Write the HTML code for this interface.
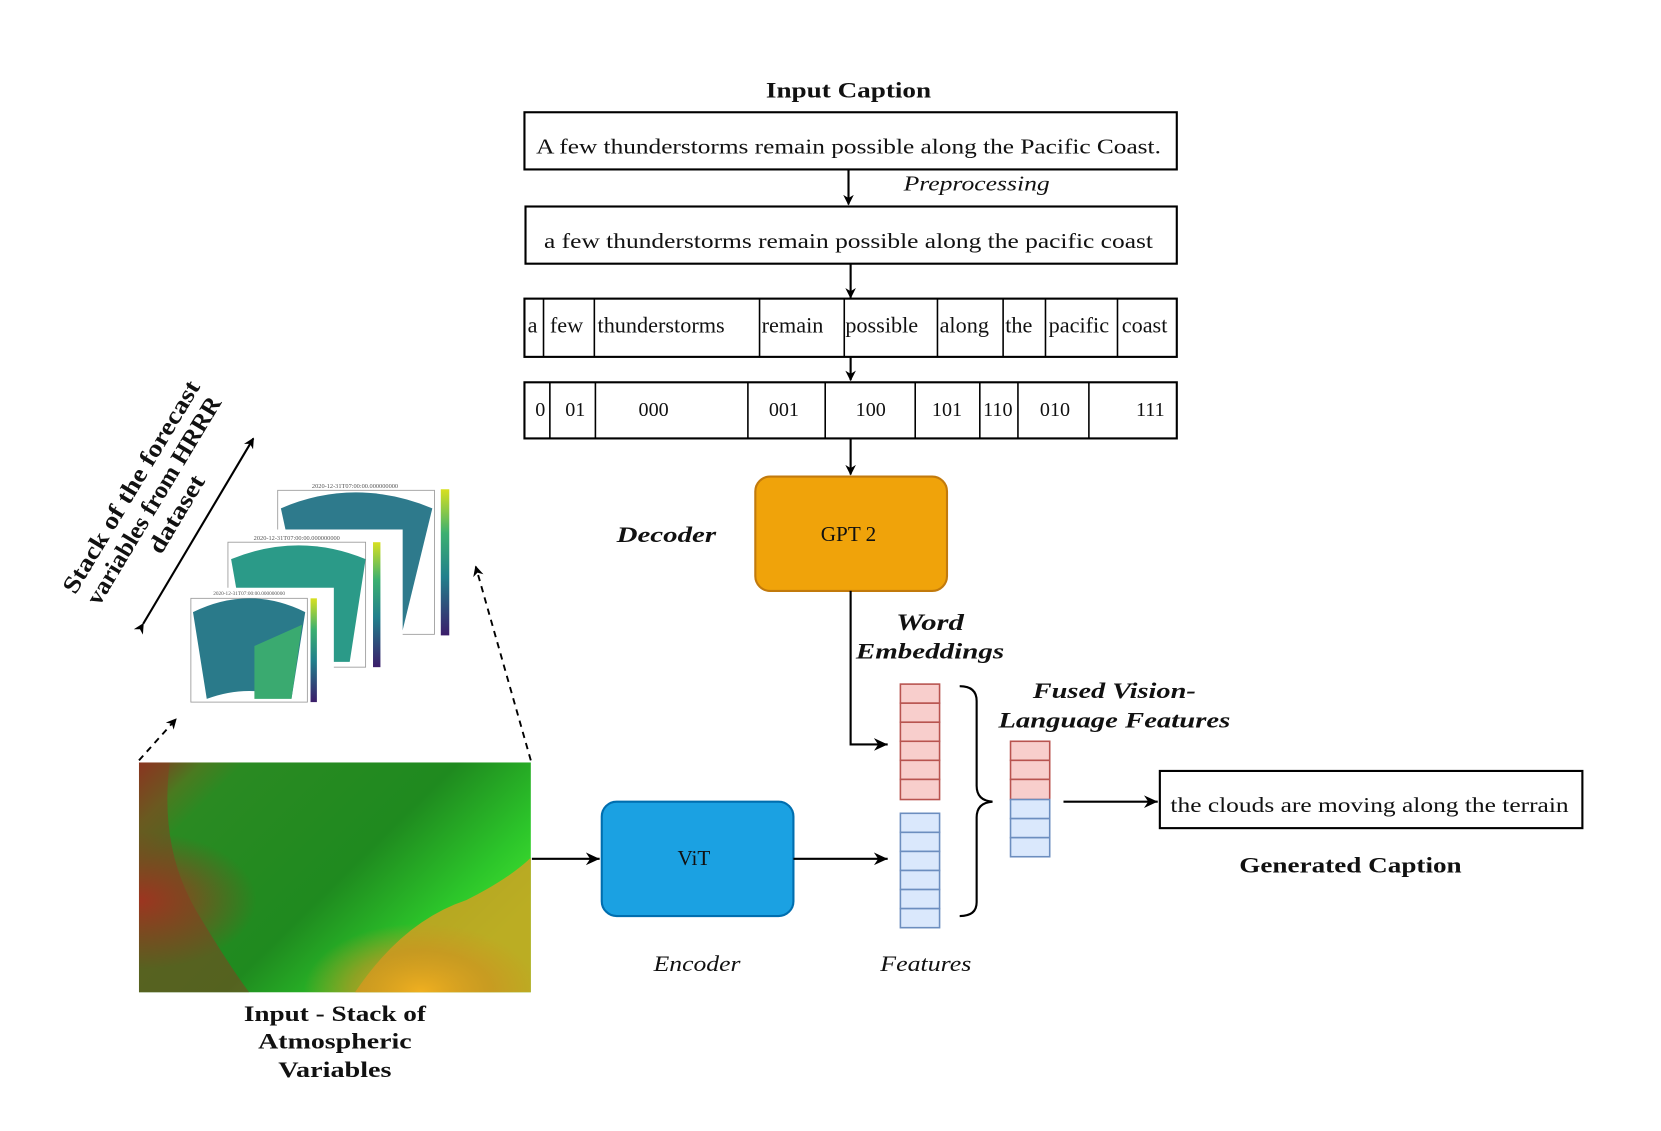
<!DOCTYPE html>
<html><head><meta charset="utf-8"><style>
html,body{margin:0;padding:0;background:#fff}
svg{display:block}
text{font-family:"Liberation Serif",serif;fill:#111}
.b{font-weight:bold}.i{font-style:italic}
</style></head><body>
<svg width="1661" height="1131" viewBox="0 0 1568 1068" xmlns="http://www.w3.org/2000/svg">
<defs>
<marker id="ah" markerWidth="10" markerHeight="10" refX="9" refY="5" orient="auto" markerUnits="userSpaceOnUse"><path d="M0,0 L10,5 L0,10 L3,5 Z" fill="#000"/></marker>
<marker id="ah2" markerWidth="14" markerHeight="14" refX="13" refY="7" orient="auto" markerUnits="userSpaceOnUse"><path d="M0,1 L13,7 L0,13 L4,7 Z" fill="#000"/></marker>
<linearGradient id="sat" x1="0" y1="0" x2="1" y2="0.6">
<stop offset="0" stop-color="#8a3020"/><stop offset="0.12" stop-color="#4a7a20"/><stop offset="0.2" stop-color="#2a8a22"/><stop offset="0.6" stop-color="#1f8a1f"/><stop offset="0.85" stop-color="#2cc52a"/><stop offset="1" stop-color="#40e030"/>
</linearGradient>
<radialGradient id="org" cx="0.72" cy="1" r="0.3"><stop offset="0" stop-color="#f0b020"/><stop offset="0.6" stop-color="#d09020" stop-opacity="0.6"/><stop offset="1" stop-color="#d09020" stop-opacity="0"/></radialGradient>
<radialGradient id="red" cx="0" cy="0.6" r="0.3"><stop offset="0" stop-color="#b03020"/><stop offset="1" stop-color="#a03020" stop-opacity="0"/></radialGradient>
<linearGradient id="vir" x1="0" y1="0" x2="0" y2="1"><stop offset="0" stop-color="#d8e020"/><stop offset="0.3" stop-color="#3cb070"/><stop offset="0.6" stop-color="#22808c"/><stop offset="1" stop-color="#3b1d6a"/></linearGradient>
</defs>

<text x="801" y="92" text-anchor="middle" class="b" font-size="21" textLength="156" lengthAdjust="spacingAndGlyphs">Input Caption</text>
<rect x="495" y="106" width="616" height="54" fill="#fff" stroke="#000" stroke-width="2"/>
<text x="801" y="145" text-anchor="middle" font-size="20" textLength="590" lengthAdjust="spacingAndGlyphs">A few thunderstorms remain possible along the Pacific Coast.</text>
<line x1="801" y1="160" x2="801" y2="193" stroke="#000" stroke-width="2" marker-end="url(#ah)"/>
<text x="922" y="180" text-anchor="middle" class="i" font-size="20" textLength="138" lengthAdjust="spacingAndGlyphs">Preprocessing</text>
<rect x="496" y="195" width="615" height="54" fill="#fff" stroke="#000" stroke-width="2"/>
<text x="801" y="234" text-anchor="middle" font-size="20" textLength="575" lengthAdjust="spacingAndGlyphs">a few thunderstorms remain possible along the pacific coast</text>
<line x1="803" y1="249" x2="803" y2="281" stroke="#000" stroke-width="2" marker-end="url(#ah)"/>

<rect x="495" y="282" width="616" height="55" fill="#fff" stroke="#000" stroke-width="2"/>
<g stroke="#000" stroke-width="1.5">
<line x1="513" y1="282" x2="513" y2="337"/><line x1="561" y1="282" x2="561" y2="337"/><line x1="717" y1="282" x2="717" y2="337"/><line x1="797" y1="282" x2="797" y2="337"/><line x1="885" y1="282" x2="885" y2="337"/><line x1="947" y1="282" x2="947" y2="337"/><line x1="987" y1="282" x2="987" y2="337"/><line x1="1055" y1="282" x2="1055" y2="337"/>
</g>
<g font-size="21">
<text x="498" y="314">a</text><text x="519" y="314">few</text><text x="564" y="314">thunderstorms</text><text x="719" y="314">remain</text><text x="798" y="314">possible</text><text x="887" y="314">along</text><text x="949" y="314">the</text><text x="990" y="314">pacific</text><text x="1059" y="314">coast</text>
</g>
<line x1="803" y1="337" x2="803" y2="359" stroke="#000" stroke-width="2" marker-end="url(#ah)"/>

<rect x="495" y="361" width="616" height="53" fill="#fff" stroke="#000" stroke-width="2"/>
<g stroke="#000" stroke-width="1.5">
<line x1="519" y1="361" x2="519" y2="414"/><line x1="562" y1="361" x2="562" y2="414"/><line x1="706" y1="361" x2="706" y2="414"/><line x1="779" y1="361" x2="779" y2="414"/><line x1="864" y1="361" x2="864" y2="414"/><line x1="925" y1="361" x2="925" y2="414"/><line x1="961" y1="361" x2="961" y2="414"/><line x1="1028" y1="361" x2="1028" y2="414"/>
</g>
<g font-size="19" text-anchor="middle">
<text x="510" y="393">0</text><text x="543" y="393">01</text><text x="617" y="393">000</text><text x="740" y="393">001</text><text x="822" y="393">100</text><text x="894" y="393">101</text><text x="942" y="393">110</text><text x="996" y="393">010</text><text x="1086" y="393">111</text>
</g>
<line x1="803" y1="414" x2="803" y2="448" stroke="#000" stroke-width="2" marker-end="url(#ah)"/>

<rect x="713" y="450" width="181" height="108" rx="14" fill="#f0a30a" stroke="#c27a0c" stroke-width="2"/>
<text x="801" y="511" text-anchor="middle" font-size="20">GPT 2</text>
<text x="629" y="512" text-anchor="middle" class="b i" font-size="21" textLength="94" lengthAdjust="spacingAndGlyphs">Decoder</text>
<polyline points="803,558 803,703 838,703" fill="none" stroke="#000" stroke-width="2" marker-end="url(#ah2)"/>
<text x="878" y="595" text-anchor="middle" class="b i" font-size="22" textLength="64" lengthAdjust="spacingAndGlyphs">Word</text>
<text x="878" y="622" text-anchor="middle" class="b i" font-size="21" textLength="140" lengthAdjust="spacingAndGlyphs">Embeddings</text>

<g fill="#f8cecc" stroke="#b85450" stroke-width="1.5">
<rect x="850" y="646" width="37" height="18"/><rect x="850" y="664" width="37" height="18"/><rect x="850" y="682" width="37" height="18"/><rect x="850" y="700" width="37" height="18"/><rect x="850" y="718" width="37" height="18"/><rect x="850" y="736" width="37" height="19"/>
</g>
<g fill="#dae8fc" stroke="#6c8ebf" stroke-width="1.5">
<rect x="850" y="768" width="37" height="18"/><rect x="850" y="786" width="37" height="18"/><rect x="850" y="804" width="37" height="18"/><rect x="850" y="822" width="37" height="18"/><rect x="850" y="840" width="37" height="18"/><rect x="850" y="858" width="37" height="18"/>
</g>
<path d="M906,648 Q922,648 922,662 L922,742 Q922,756 937,757 Q922,758 922,772 L922,852 Q922,865 906,865" fill="none" stroke="#000" stroke-width="2"/>
<text x="1052" y="659" text-anchor="middle" class="b i" font-size="21" textLength="154" lengthAdjust="spacingAndGlyphs">Fused Vision-</text>
<text x="1052" y="687" text-anchor="middle" class="b i" font-size="21" textLength="219" lengthAdjust="spacingAndGlyphs">Language Features</text>
<g fill="#f8cecc" stroke="#b85450" stroke-width="1.5">
<rect x="954" y="700" width="37" height="18"/><rect x="954" y="718" width="37" height="18"/><rect x="954" y="736" width="37" height="19"/>
</g>
<g fill="#dae8fc" stroke="#6c8ebf" stroke-width="1.5">
<rect x="954" y="755" width="37" height="18"/><rect x="954" y="773" width="37" height="18"/><rect x="954" y="791" width="37" height="18"/>
</g>
<line x1="1004" y1="757" x2="1093" y2="757" stroke="#000" stroke-width="2" marker-end="url(#ah2)"/>
<rect x="1095" y="728" width="399" height="54" fill="#fff" stroke="#000" stroke-width="2"/>
<text x="1293" y="767" text-anchor="middle" font-size="20" textLength="376" lengthAdjust="spacingAndGlyphs">the clouds are moving along the terrain</text>
<text x="1275" y="824" text-anchor="middle" class="b" font-size="21" textLength="210" lengthAdjust="spacingAndGlyphs">Generated Caption</text>

<rect x="568" y="757" width="181" height="108" rx="14" fill="#1ba1e2" stroke="#006eaf" stroke-width="2"/>
<text x="655" y="817" text-anchor="middle" font-size="20">ViT</text>
<line x1="502" y1="811" x2="566" y2="811" stroke="#000" stroke-width="2" marker-end="url(#ah2)"/>
<line x1="749" y1="811" x2="838" y2="811" stroke="#000" stroke-width="2" marker-end="url(#ah2)"/>
<text x="658" y="917" text-anchor="middle" class="i" font-size="21" textLength="82" lengthAdjust="spacingAndGlyphs">Encoder</text>
<text x="874" y="917" text-anchor="middle" class="i" font-size="21" textLength="86" lengthAdjust="spacingAndGlyphs">Features</text>

<rect x="131" y="720" width="370" height="217" fill="url(#sat)"/>
<rect x="131" y="720" width="370" height="217" fill="url(#red)"/>
<path d="M335,937 Q380,870 440,850 Q480,830 501,810 L501,937 Z" fill="#d9a020" opacity="0.8"/>
<rect x="131" y="720" width="370" height="217" fill="url(#org)"/>
<path d="M131,720 L160,720 Q150,800 185,860 Q215,910 235,937 L131,937 Z" fill="#8a3a20" opacity="0.5"/>
<text x="316" y="964" text-anchor="middle" class="b" font-size="21" textLength="172" lengthAdjust="spacingAndGlyphs">Input - Stack of</text>
<text x="316" y="990" text-anchor="middle" class="b" font-size="21" textLength="145" lengthAdjust="spacingAndGlyphs">Atmospheric</text>
<text x="316" y="1017" text-anchor="middle" class="b" font-size="21" textLength="107" lengthAdjust="spacingAndGlyphs">Variables</text>

<line x1="131" y1="718" x2="166" y2="679" stroke="#000" stroke-width="1.8" stroke-dasharray="6,5" marker-end="url(#ah)"/>
<line x1="501" y1="718" x2="449" y2="535" stroke="#000" stroke-width="1.8" stroke-dasharray="6,5" marker-end="url(#ah)"/>

<line x1="135" y1="589" x2="239" y2="414" stroke="#000" stroke-width="2" marker-end="url(#ah)" marker-start="url(#ah)"/>
<g transform="translate(154,478) rotate(-59)" font-size="23" text-anchor="middle">
<text x="0" y="-28" class="b" textLength="230" lengthAdjust="spacingAndGlyphs">Stack of the forecast</text>
<text x="0" y="-3" class="b" textLength="225" lengthAdjust="spacingAndGlyphs">variables from HRRR</text>
<text x="0" y="22" class="b" textLength="82" lengthAdjust="spacingAndGlyphs">dataset</text>
</g>

<g>
<rect x="255" y="455" width="190" height="150" fill="#fff"/>
<rect x="262" y="463" width="148" height="136" fill="none" stroke="#999" stroke-width="0.8"/>
<path d="M265,480 Q335,450 408,480 L380,595 L290,595 Z" fill="#2e7a8c"/>
<rect x="416" y="462" width="8" height="138" fill="url(#vir)"/>
<text x="335" y="461" font-size="6" text-anchor="middle" style="fill:#555">2020-12-31T07:00:00.000000000</text>
</g>
<g>
<rect x="205" y="500" width="175" height="135" fill="#fff"/>
<rect x="215" y="512" width="130" height="118" fill="none" stroke="#999" stroke-width="0.8"/>
<path d="M218,528 Q282,502 345,528 L330,625 L235,625 Z" fill="#2b9a88"/>
<rect x="352" y="512" width="7" height="118" fill="url(#vir)"/>
<text x="280" y="510" font-size="6" text-anchor="middle" style="fill:#555">2020-12-31T07:00:00.000000000</text>
</g>
<g>
<rect x="170" y="555" width="145" height="115" fill="#fff"/>
<rect x="180" y="565" width="110" height="98" fill="none" stroke="#999" stroke-width="0.8"/>
<path d="M182,578 Q235,552 288,578 L275,660 Q235,645 195,660 Z" fill="#2a7a8a"/>
<path d="M240,610 L285,590 L275,660 L240,660 Z" fill="#3aaa70"/>
<rect x="293" y="565" width="6" height="98" fill="url(#vir)"/>
<text x="235" y="562" font-size="5" text-anchor="middle" style="fill:#555">2020-12-31T07:00:00.000000000</text>
</g>
</svg>
</body></html>
